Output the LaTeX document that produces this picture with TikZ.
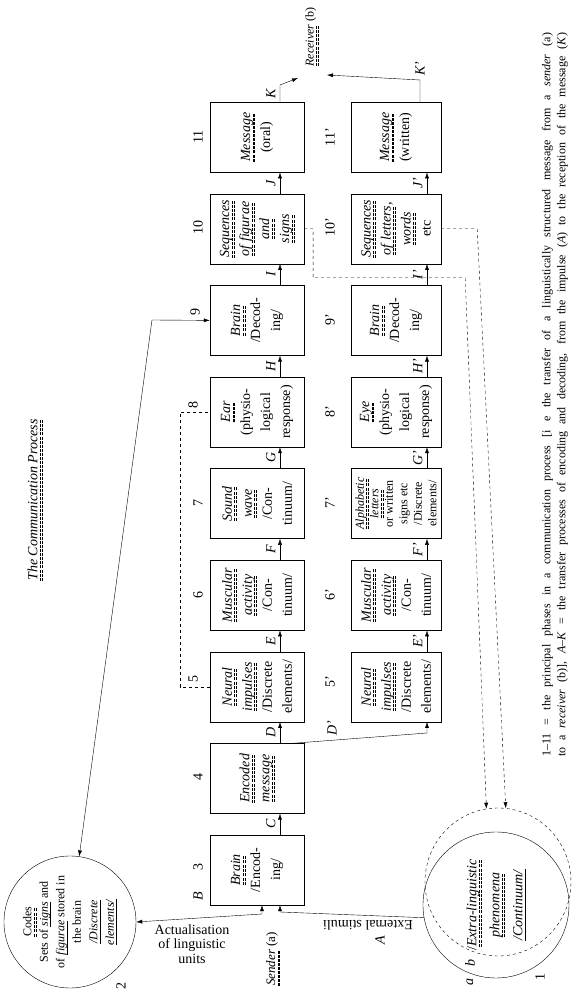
\documentclass[tikz,border=0pt]{standalone}
\usepackage{fontspec}
\setmainfont{Liberation Serif}
\usetikzlibrary{arrows.meta,calc,shapes.geometric}

% double dashed underline of the printed figure, and a plain one
\newcommand\dul[1]{\leavevmode\setbox0\hbox{#1}\rlap{\raisebox{-5pt}{\hbox to \wd0{\xleaders\hbox{\vbox{\hrule width 3pt height .6pt\kern1.2pt\hrule width 3pt height .6pt}\kern1pt}\hfill}}}\box0\relax}
\newcommand\uln[1]{\leavevmode\setbox0\hbox{#1}\rlap{\raisebox{-3.2pt}{\rule{\wd0}{.6pt}}}\box0\relax}

\tikzset{
  phase/.style={draw, minimum width=70, minimum height=94, inner sep=1pt, align=center, font=\fontsize{14}{20}\selectfont},
  phasew/.style={phase, minimum height=90},
  letter/.style={font=\fontsize{14}{16}\selectfont\itshape},
  num/.style={font=\fontsize{14}{16}\selectfont},
  flow/.style={-{Latex[length=6pt,width=4pt]}},
  both/.style={{Latex[length=6pt,width=4pt]}-{Latex[length=6pt,width=4pt]}},
}

\begin{document}
\begin{tikzpicture}[x=1pt, y=1pt, rotate=90, transform shape]
\useasboundingbox (0,0) rectangle (996,587);
\path node (title) [font=\fontsize{14}{16}\selectfont] at (496,552) {\dul{\textit{The Communication Process}}}
node (codes) [circle, draw, minimum size=132, inner sep=0pt, align=center, font=\fontsize{12}{16.5}\selectfont] at (74,517) {\dul{Codes}\\Sets of \uln{\textit{signs}} and\\of \uln{\textit{figurae}} stored in\\the brain\\\uln{\textit{/Discrete}}\\\uln{\textit{elements/}}}
node (ext) [circle, draw, minimum size=146, inner sep=0pt, align=center, font=\fontsize{14}{23}\selectfont] at (91,91) {/\dul{\textit{Extra-linguistic}}\\\dul{\textit{phenomena}}\\\uln{\textit{/Continuum/}}}
node (eb) [ellipse, draw, dashed, minimum width=148, minimum height=146, inner sep=0pt] at (114,89) {}
node (b3) [phase] at (126,330) {\dul{\textit{Brain}}\\/Encod-\\ing/}
node (b4) [phase] at (217.6,330) {\dul{\textit{Encoded}}\\\dul{\textit{message}}}
node (b5) [phase] at (309.2,330) {\dul{\textit{Neural}}\\\dul{\textit{impulses}}\\/Discrete\\elements/}
node (b6) [phase] at (400.8,330) {\dul{\textit{Muscular}}\\\dul{\textit{activity}}\\/Con-\\tinuum/}
node (b7) [phase] at (492.4,330) {\dul{\textit{Sound}}\\\dul{\textit{wave}}\\/Con-\\tinuum/}
node (b8) [phase] at (584,330) {\dul{\textit{Ear}}\\(physio-\\logical\\response)}
node (b9) [phase] at (675.6,330) {\dul{\textit{Brain}}\\/Decod-\\ing/}
node (b10) [phase] at (767.2,330) {\dul{\textit{Sequences}}\\\dul{\textit{of figurae}}\\\dul{\textit{and}}\\\dul{\textit{signs}}}
node (b11) [phase] at (858.8,330) {\dul{\textit{Message}}\\(oral)}
node (w5) [phasew] at (309.2,191) {\dul{\textit{Neural}}\\\dul{\textit{impulses}}\\/Discrete\\elements/}
node (w6) [phasew] at (400.8,191) {\dul{\textit{Muscular}}\\\dul{\textit{activity}}\\/Con-\\tinuum/}
node (w7) [phasew, font=\fontsize{12}{14.5}\selectfont] at (492.4,191) {\dul{\textit{Alphabetic}}\\\dul{\textit{letters}}\\or written\\signs etc\\/Discrete\\elements/}
node (w8) [phasew] at (584,191) {\dul{\textit{Eye}}\\(physio-\\logical\\response)}
node (w9) [phasew] at (675.6,191) {\dul{\textit{Brain}}\\/Decod-\\ing/}
node (w10) [phasew] at (767.2,191) {\dul{\textit{Sequences}}\\\dul{\textit{of letters}},\\\dul{\textit{words}}\\etc}
node (w11) [phasew] at (858.8,191) {\dul{\textit{Message}}\\(written)}
node (n1) [num] at (19,47) {1}
node (n2) [num] at (10,466) {2}
node (la) [letter] at (14,117) {a}
node (lb) [letter] at (33,117) {b}
node (lB) [letter] at (100,389) {B}
node (n3) [num] at (129,389) {3}
node (n4) [num] at (219,389) {4}
node (n5) [num] at (317,394) {5}
node (n6) [num] at (401,389) {6}
node (n7) [num] at (493,389) {7}
node (n8) [num] at (591,394) {8}
node (n9) [num] at (684,392) {9}
node (n10) [num] at (768,389) {10}
node (n11) [num] at (859,389) {11}
node (lDp) [letter] at (268,255) {D'}
node (n5p) [num] at (314,257) {5'}
node (n6p) [num] at (401,257) {6'}
node (n7p) [num] at (493,257) {7'}
node (n8p) [num] at (584,257) {8'}
node (n9p) [num] at (676,257) {9'}
node (n10p) [num] at (769,257) {10'}
node (n11p) [num] at (859,257) {11'}
node (sender) [font=\fontsize{13}{15}\selectfont] at (37,314) {\dul{\textit{Sender}} (a)}
node (recv) [anchor=west, font=\fontsize{12}{14}\selectfont] at (926,275) {\dul{\textit{Receiver}} (b)}
node (exttxt) [rotate=90, font=\fontsize{14}{16}\selectfont] at (71,219) {External stimuli}
node (lA) [letter] at (56,207) {A}
node (acttxt) [rotate=-90, align=center, font=\fontsize{14}{14.5}\selectfont] at (52,395) {Actualisation\\of linguistic\\units}
node (cap) [align=left, inner sep=0pt, font=\fontsize{12}{15}\selectfont] at (601,32) {\makebox[724pt][s]{1--11 = the principal phases in a communication process [i e the transfer of a linguistically structured message from a \textit{sender} (a)}\\\makebox[724pt][s]{to a \textit{receiver} (b)], \textit{A--K} = the transfer processes of encoding and decoding, from the impulse (\textit{A}) to the reception of the message (\textit{K})}}
;
\coordinate (actc) at (82,325);
\coordinate (extc) at (84,307);
\coordinate (fbc) at (676,435);
\draw[flow] ($(b3.east)+(0,-23)$) -- ($(b4.west)+(0,-23)$) node[midway, above=1pt, letter] {C};
\draw[flow] ($(b4.east)+(0,-23)$) -- ($(b5.west)+(0,-23)$) node[midway, above=1pt, letter] {D};
\draw[flow] ($(b5.east)+(0,-23)$) -- ($(b6.west)+(0,-23)$) node[midway, above=1pt, letter] {E};
\draw[flow] ($(b6.east)+(0,-23)$) -- ($(b7.west)+(0,-23)$) node[midway, above=1pt, letter] {F};
\draw[flow] ($(b7.east)+(0,-23)$) -- ($(b8.west)+(0,-23)$) node[midway, above=1pt, letter] {G};
\draw[flow] ($(b8.east)+(0,-23)$) -- ($(b9.west)+(0,-23)$) node[midway, above=1pt, letter] {H};
\draw[flow] ($(b9.east)+(0,-23)$) -- ($(b10.west)+(0,-23)$) node[midway, above=1pt, letter] {I};
\draw[flow] ($(b10.east)+(0,-23)$) -- ($(b11.west)+(0,-23)$) node[midway, above=1pt, letter] {J};
\draw[flow] ($(b11.east)+(0,-23)$) -- ++(17,0) node[midway, above=1pt, letter] {K} -- ($(recv.west)+(-8,14)$);
\draw[flow] ($(b4.south east)+(0,10)$) -- ($(w5.west)+(-11,-31)$) -- ($(w5.west)+(0,-31)$);
\draw[flow] ($(w5.east)+(0,-31)$) -- ($(w6.west)+(0,-31)$) node[midway, above=1pt, letter] {E'};
\draw[flow] ($(w6.east)+(0,-31)$) -- ($(w7.west)+(0,-31)$) node[midway, above=1pt, letter] {F'};
\draw[flow] ($(w7.east)+(0,-31)$) -- ($(w8.west)+(0,-31)$) node[midway, above=1pt, letter] {G'};
\draw[flow] ($(w8.east)+(0,-31)$) -- ($(w9.west)+(0,-31)$) node[midway, above=1pt, letter] {H'};
\draw[flow] ($(w9.east)+(0,-31)$) -- ($(w10.west)+(0,-31)$) node[midway, above=1pt, letter] {I'};
\draw[flow] ($(w10.east)+(0,-31)$) -- ($(w11.west)+(0,-31)$) node[midway, above=1pt, letter] {J'};
\draw[flow] ($(w11.east)+(0,-24)$) -- ++(22,0) node[right=1pt, letter] {K'} -- ($(recv.west)+(-5,-15)$);
\draw[dashed] (b5.north) -- ++(0,30) -- ($(b8.north)+(0,30)$) -- (b8.north);
\draw[dashed, flow] (b10.south) -- ++(0,-9) -- ++(-49,0) -- ++(0,-152) -- (eb.9);
\draw[dashed, flow] (w10.south) -- ++(0,-36) -- (eb.-6);
\draw[both] (codes.-8) -- (fbc) -- (b9.north);
\draw[both] (codes.south) -- (actc) -- ($(b3.west)+(0,-5)$);
\draw[flow] (ext.100) -- (extc) -- ($(b3.west)+(0,-23)$);
\end{tikzpicture}
\end{document}
